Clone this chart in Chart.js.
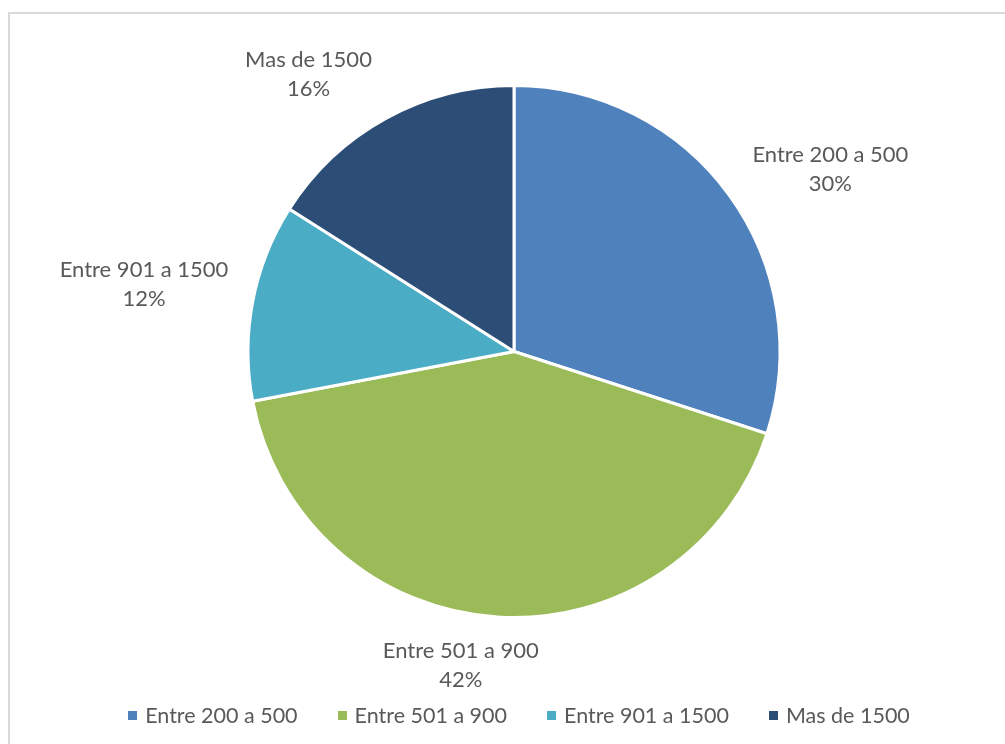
<!DOCTYPE html>
<html lang="es">
<head>
  <meta charset="UTF-8">
  <title>Rangos</title>
  <script src="https://cdn.jsdelivr.net/npm/chart.js"></script>
  <style>
    html, body { margin: 0; padding: 0; background: #fff; }
    .grafico { position: relative; width: 1005px; height: 744px; }
  </style>
</head>
<body>
  <div class="grafico">
    <canvas id="graficoPizza" width="1005" height="744"></canvas>
  </div>

  <script>
    const categorias = ['Entre 200 a 500', 'Entre 501 a 900', 'Entre 901 a 1500', 'Mas de 1500'];
    const porcentajes = [30, 42, 12, 16];
    const colores = ['#4F81BD', '#9BBB59', '#4BACC6', '#2C4D75'];

    const fuente = "Lato, 'Open Sans', sans-serif";
    const colorTexto = '#595959';

    // marco gris del grafico (como en Excel)
    const marco = {
      id: 'marco',
      beforeDraw(chart) {
        const ctx = chart.ctx;
        ctx.save();
        ctx.strokeStyle = '#d9d9d9';
        ctx.lineWidth = 2;
        ctx.strokeRect(9, 13, 1100, 900);
        ctx.restore();
      }
    };

    // etiquetas fuera de cada porcion: nombre + porcentaje
    const ajustes = [[30, -4], [-31, 10], [-16, -11], [-42, -11]];
    const etiquetas = {
      id: 'etiquetas',
      afterDatasetsDraw(chart) {
        const ctx = chart.ctx;
        const arcos = chart.getDatasetMeta(0).data;
        ctx.save();
        ctx.font = '22px ' + fuente;
        ctx.fillStyle = colorTexto;
        ctx.textAlign = 'center';
        ctx.textBaseline = 'middle';
        arcos.forEach((arco, i) => {
          const p = arco.getProps(['x', 'y', 'startAngle', 'endAngle', 'outerRadius']);
          const a = (p.startAngle + p.endAngle) / 2;
          const dx = Math.cos(a), dy = Math.sin(a);
          const l1 = chart.data.labels[i];
          const l2 = chart.data.datasets[0].data[i] + '%';
          const w = Math.max(ctx.measureText(l1).width, ctx.measureText(l2).width);
          const h = 56;
          const r = p.outerRadius + 10;
          const cx = p.x + dx * r + dx * w / 2 + ajustes[i][0];
          const cy = p.y + dy * r + dy * h / 2 + ajustes[i][1];
          ctx.fillText(l1, cx, cy - 14);
          ctx.fillText(l2, cx, cy + 15);
        });
        ctx.restore();
      }
    };

    // leyenda inferior con cuadritos
    const leyenda = {
      id: 'leyenda',
      afterDraw(chart) {
        const ctx = chart.ctx;
        ctx.save();
        ctx.font = '21.5px ' + fuente;
        ctx.textBaseline = 'middle';
        const caja = 9, sep = 8, entre = 40, y = 715;
        const anchos = chart.data.labels.map(t => caja + sep + ctx.measureText(t).width);
        const total = anchos.reduce((a, b) => a + b, 0) + entre * (anchos.length - 1);
        let x = 519 - total / 2;
        chart.data.labels.forEach((t, i) => {
          ctx.fillStyle = chart.data.datasets[0].backgroundColor[i];
          ctx.fillRect(Math.round(x), y - 4, caja, caja);
          ctx.fillStyle = colorTexto;
          ctx.fillText(t, x + caja + sep, y + 1);
          x += anchos[i] + entre;
        });
        ctx.restore();
      }
    };

    const ctxPizza = document.getElementById('graficoPizza').getContext('2d');
    const graficoPizza = new Chart(ctxPizza, {
      type: 'pie',
      data: {
        labels: categorias,
        datasets: [{
          data: porcentajes,
          backgroundColor: colores,
          borderColor: '#fff',
          borderWidth: 3,
          hoverOffset: 0
        }]
      },
      options: {
        responsive: false,
        animation: false,
        layout: { padding: { top: 84, bottom: 125, left: 23, right: 0 } },
        plugins: {
          legend: { display: false },
          tooltip: { enabled: false },
          title: { display: false }
        }
      },
      plugins: [marco, etiquetas, leyenda]
    });
  </script>
</body>
</html>
